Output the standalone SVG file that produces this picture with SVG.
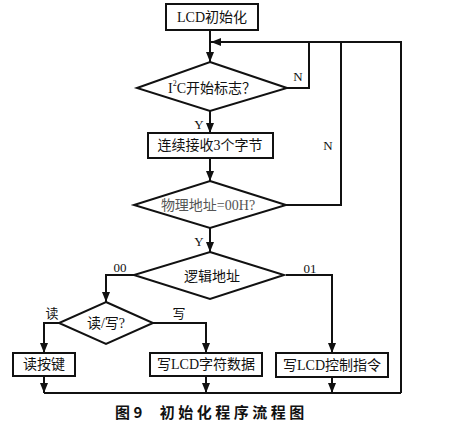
<svg xmlns="http://www.w3.org/2000/svg" width="460" height="436" viewBox="0 0 460 436">
<defs>
<marker id="ah" viewBox="0 0 10 10" refX="10" refY="5" markerWidth="5" markerHeight="5" orient="auto" markerUnits="strokeWidth">
<path d="M0,1 L10,5 L0,9 Z" fill="#111"/>
</marker>
<style>
.box{fill:#fff;stroke:#111;stroke-width:2}
.ln{fill:none;stroke:#111;stroke-width:2}
.arr{fill:none;stroke:#111;stroke-width:2;marker-end:url(#ah)}
.t{font-family:"Liberation Serif","Noto Sans CJK SC",serif;font-size:14px;fill:#111;text-anchor:middle;dominant-baseline:central}
.lb{font-family:"Liberation Serif","Noto Sans CJK SC",serif;font-size:13px;fill:#111;text-anchor:middle}
.cap{font-family:"Noto Sans CJK SC",sans-serif;font-size:15px;font-weight:bold;fill:#111;letter-spacing:3.5px}
</style>
</defs>
<rect width="460" height="436" fill="#fff"/>
<g id="connectors">
<path class="arr" d="M210,30 V62"/>
<path class="arr" d="M401,393 V42 H211"/>
<path class="ln" d="M287,88 H309 V42"/>
<path class="arr" d="M210,111 V133"/>
<path class="arr" d="M210,158 V181"/>
<path class="ln" d="M286,205 H341 V42"/>
<path class="arr" d="M210,228 V252"/>
<path class="arr" d="M134,275 H106 V302"/>
<path class="arr" d="M286,275 H332 V353"/>
<path class="arr" d="M59,323 H44 V353"/>
<path class="arr" d="M153,323 H206 V353"/>
<path class="arr" d="M44,376 V393"/>
<path class="arr" d="M206,376 V393"/>
<path class="arr" d="M332,377 V393"/>
<path class="ln" d="M44,393 H401"/>
</g>
<g id="lbl-n1"><text class="lb" x="298" y="81">N</text></g>
<g id="lbl-y1"><text class="lb" x="199" y="129">Y</text></g>
<g id="lbl-n2"><text class="lb" x="328" y="150">N</text></g>
<g id="lbl-y2"><text class="lb" x="199" y="246">Y</text></g>
<g id="lbl-00"><text class="lb" x="120" y="272">00</text></g>
<g id="lbl-01"><text class="lb" x="310" y="273">01</text></g>
<g id="lbl-read"><text class="lb" x="52" y="318">读</text></g>
<g id="lbl-write"><text class="lb" x="179" y="318">写</text></g>
<g id="n-init">
<rect class="box" x="166" y="4" width="92" height="26"/>
<text class="t" x="212" y="17">LCD初始化</text>
</g>
<g id="n-i2c">
<polygon class="box" points="210,62 287,88 210,111 137,88"/>
<text class="t" x="212" y="88">I<tspan font-size="8" dy="-5">2</tspan><tspan dy="5">C开始标志？</tspan></text>
</g>
<g id="n-recv">
<rect class="box" x="148" y="133" width="125" height="25"/>
<text class="t" x="210" y="145.5">连续接收3个字节</text>
</g>
<g id="n-phys">
<polygon class="box" points="210,181 286,205 210,228 134,205"/>
<text class="t" x="208" y="205" style="fill:#555">物理地址=00H?</text>
</g>
<g id="n-logic">
<polygon class="box" points="210,252 284,275 210,299 134,275"/>
<text class="t" x="212" y="276">逻辑地址</text>
</g>
<g id="n-rw">
<polygon class="box" points="106,302 153,323 106,344 59,323"/>
<text class="t" x="106" y="323">读/写?</text>
</g>
<g id="n-readkey">
<rect class="box" x="13" y="353" width="62" height="23"/>
<text class="t" x="44" y="364.5">读按键</text>
</g>
<g id="n-writechar">
<rect class="box" x="150" y="353" width="112" height="23"/>
<text class="t" x="206" y="364.5">写LCD字符数据</text>
</g>
<g id="n-writectrl">
<rect class="box" x="276" y="353" width="112" height="24"/>
<text class="t" x="332" y="365">写LCD控制指令</text>
</g>
<g id="caption">
<text class="cap" x="115" y="418">图9<tspan dx="14">初始化程序流程图</tspan></text>
</g>
</svg>
